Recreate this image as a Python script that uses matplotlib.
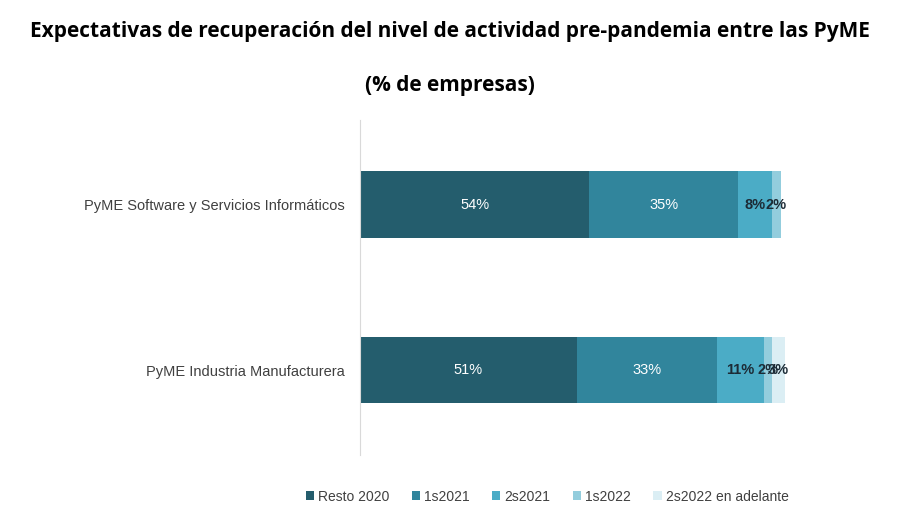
import numpy as np
import matplotlib
matplotlib.use("Agg")
from matplotlib import pyplot as plt

categories = ["PyME Industria Manufacturera", "PyME Software y Servicios Informáticos"]
series = ["Resto 2020", "1s2021", "2s2021", "1s2022", "2s2022 en adelante"]
values = {
    "Resto 2020": [51, 54],
    "1s2021": [33, 35],
    "2s2021": [11, 8],
    "1s2022": [2, 2],
    "2s2022 en adelante": [3, 0],
}
colors = ["#245d6d", "#31859c", "#4bacc6", "#93cddd", "#dbeef4"]
label_colors = ["white", "white", "#1c2b36", "#1c2b36", "#1c2b36"]

fig = plt.figure(figsize=(9, 5.24), dpi=100)
ax = fig.add_axes([0.4, 0.132, 0.472, 0.639])

y = np.arange(len(categories))
left = np.zeros(len(categories))
for name, col, lc in zip(series, colors, label_colors):
    vals = np.array(values[name], dtype=float)
    ax.barh(y, vals, left=left, height=0.4, color=col, label=name)
    for yi, v, l in zip(y, vals, left):
        if v <= 0:
            continue
        weight = "normal" if v >= 20 else "bold"
        ax.text(l + v / 2, yi, f"{v:.0f}%", ha="center", va="center",
                color=lc, fontsize=10.5, fontweight=weight,
                family=["Liberation Sans Narrow", "Liberation Sans"])
    left += vals

ax.set_xlim(0, 100)
ax.set_ylim(-0.51, 1.51)
ax.set_yticks(y)
ax.set_yticklabels(categories, fontsize=10.5, color="#404040", family="Liberation Sans")
ax.tick_params(axis="y", length=0, pad=11)
ax.set_xticks([])
for s in ["top", "right", "bottom"]:
    ax.spines[s].set_visible(False)
ax.spines["left"].set_color("#d9d9d9")

fig.text(0.5, 0.94, "Expectativas de recuperación del nivel de actividad pre-pandemia entre las PyME",
         ha="center", va="center", fontsize=15, fontweight="bold", family="Open Sans")
fig.text(0.5, 0.836, "(% de empresas)", ha="center", va="center",
         fontsize=15, fontweight="bold", family="Open Sans")

leg = fig.legend(loc="center", bbox_to_anchor=(0.608, 0.052), ncol=5, frameon=False,
                 handlelength=0.6, handleheight=0.6, handletextpad=0.3, columnspacing=1.6,
                 prop={"family": "Liberation Sans", "size": 10})
for t in leg.get_texts():
    t.set_color("#404040")

fig.savefig("out.png", dpi=100)
